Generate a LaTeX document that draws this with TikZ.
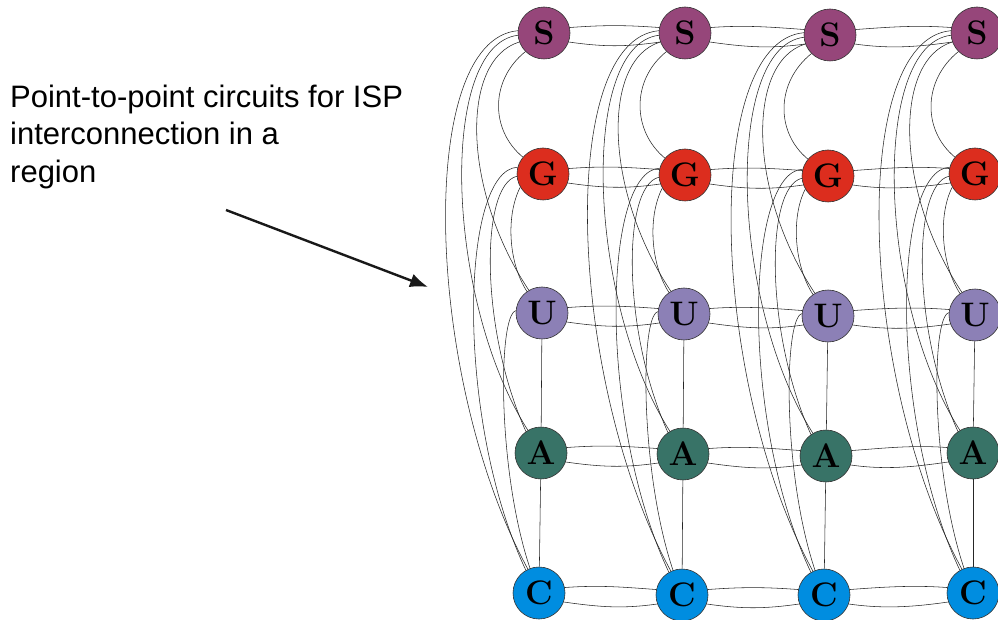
\documentclass[tikz,border=0pt]{standalone}
\usepackage{fontspec}
\newfontfamily\lblfont{Liberation Sans}
\newfontfamily\ltrfont{Latin Modern Roman}
\usetikzlibrary{calc,arrows.meta}
\definecolor{colS}{RGB}{150,70,122}
\definecolor{colG}{RGB}{220,45,30}
\definecolor{colU}{RGB}{140,128,182}
\definecolor{colA}{RGB}{56,115,103}
\definecolor{colC}{RGB}{0,141,224}
\tikzset{
  isp/.style={circle, draw=black!80, line width=0.6pt, minimum size=52pt, inner sep=0pt,
    font={\ltrfont\bfseries\fontsize{34}{34}\selectfont}},
  ispS/.style={isp, fill=colS},
  ispG/.style={isp, fill=colG},
  ispU/.style={isp, fill=colU},
  ispA/.style={isp, fill=colA},
  ispC/.style={isp, fill=colC},
  edge/.style={draw=black!85, line width=0.55pt},
  pointer/.style={draw=black!90, line width=2.4pt, -{Latex[length=18pt,width=14pt]}},
  caption/.style={anchor=north west, align=left, inner sep=0pt,
    font=\lblfont\fontsize{31}{37.5}\selectfont}
}
\newcommand\colEdges[1]{%
 \draw[edge] (#1S.225) .. controls ($(#1S)+(-54,47)$) and ($(#1G)+(-53,-44)$) .. (#1G.140);
 \draw[edge] (#1S.200) .. controls ($(#1S)+(-84,27)$) and ($(#1U)+(-80,-123)$) .. (#1U.120);
 \draw[edge] (#1S.185) .. controls ($(#1S)+(-106,12)$) and ($(#1A)+(-96,-153)$) .. (#1A.120);
 \draw[edge] (#1S.175) .. controls ($(#1S)+(-129,7)$) and ($(#1C)+(-114,-213)$) .. (#1C.115);
 \draw[edge] (#1G.210) .. controls ($(#1G)+(-37,41)$) and ($(#1U)+(-34,-51)$) .. (#1U.125);
 \draw[edge] (#1G.185) .. controls ($(#1G)+(-63,11)$) and ($(#1A)+(-61,-123)$) .. (#1A.125);
 \draw[edge] (#1G.165) .. controls ($(#1G)+(-83,-4)$) and ($(#1C)+(-84,-173)$) .. (#1C.120);
 \draw[edge] (#1U.175) .. controls ($(#1U)+(-44,2)$) and ($(#1C)+(-42,-123)$) .. (#1C.110);
 \draw[edge] (#1U) -- (#1A);
 \draw[edge] (#1A) -- (#1C);
}
\newcommand\pairEdges[2]{%
 \draw[edge] (#1.12) .. controls ($(#1)+(60,-8)$) and ($(#2)+(-60,-8)$) .. (#2.168);
 \draw[edge] (#1.-20) .. controls ($(#1)+(60,14)$) and ($(#2)+(-60,14)$) .. (#2.-160);
}
\begin{document}
\begin{tikzpicture}[x=1pt,y=-1pt]
\useasboundingbox (0,0) rectangle (998,620);
\clip (0,0) rectangle (998,620);
% column 1
\node[ispS] (aS) at (544,33) {S};
\node[ispG] (aG) at (543,174) {G};
\node[ispU] (aU) at (542,313) {U};
\node[ispA] (aA) at (541,453) {A};
\node[ispC] (aC) at (539,593) {C};
% column 2
\node[ispS] (bS) at (685,33) {S};
\node[ispG] (bG) at (685,175) {G};
\node[ispU] (bU) at (684,314) {U};
\node[ispA] (bA) at (683,454) {A};
\node[ispC] (bC) at (682,595) {C};
% column 3
\node[ispS] (cS) at (830,35) {S};
\node[ispG] (cG) at (828,176) {G};
\node[ispU] (cU) at (828,316) {U};
\node[ispA] (cA) at (826,456) {A};
\node[ispC] (cC) at (824,595) {C};
% column 4
\node[ispS] (dS) at (977,33) {S};
\node[ispG] (dG) at (975,174) {G};
\node[ispU] (dU) at (975,315) {U};
\node[ispA] (dA) at (973,453) {A};
\node[ispC] (dC) at (973,593) {C};
% vertical meshes
\colEdges{a}
\colEdges{b}
\colEdges{c}
\colEdges{d}
% horizontal links
\foreach \r in {S,G,U,A,C}{
  \pairEdges{a\r}{b\r}
  \pairEdges{b\r}{c\r}
  \pairEdges{c\r}{d\r}
}
% caption and pointer
\node[caption] (lbl) at (10,84.5) {Point-to-point circuits for ISP\\interconnection in a\\region};
\coordinate (arrS) at (226,210);
\coordinate (arrE) at (428,287);
\draw[pointer] (arrS) -- (arrE);
\end{tikzpicture}
\end{document}
